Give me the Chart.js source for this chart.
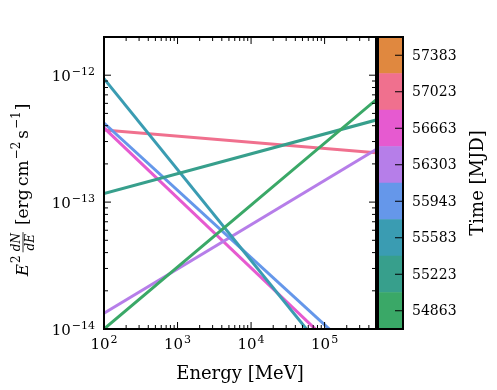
<!DOCTYPE html>
<html>
<head>
<meta charset="utf-8">
<script src="https://cdn.jsdelivr.net/npm/chart.js@4.4.1/dist/chart.umd.min.js"></script>
<style>
  body { margin: 0; background: #fff; }
  #wrap { position: relative; width: 497px; height: 390px; }
  #wrap canvas { position: absolute; left: 0; top: 0; }
</style>
</head>
<body>
<div id="wrap">
  <canvas id="spec" width="497" height="390"></canvas>
  <canvas id="cbar" width="497" height="390"></canvas>
</div>
<script>
// energy end points of every power law [MeV]
const energy = [100, 5e5];

// E^2 dN/dE at the two ends [erg cm^-2 s^-1], one array per epoch
const flux54863 = [1.0e-14, 6.4e-13];
const flux55223 = [1.17e-13, 4.43e-13];
const flux55583 = [9.4e-13, 2.1e-15];
const flux55943 = [4.2e-13, 4.6e-15];
const flux56303 = [1.33e-14, 2.6e-13];
const flux56663 = [3.85e-13, 3.5e-15];
const flux57023 = [3.7e-13, 2.45e-13];

// colour bar
const mjdLabels = ['54863', '55223', '55583', '55943', '56303', '56663', '57023', '57383'];
const mjdColors = ['#3aa867', '#379f8c', '#3a9cb2', '#6597ea', '#b67ee9', '#e65ad0', '#f0708e', '#e0883f'];

// tick labels (powers of ten)
const xTickExp = [2, 3, 4, 5];
const yTickExp = [-14, -13, -12];

const series = [
  { mjd: '54863', flux: flux54863 },
  { mjd: '55223', flux: flux55223 },
  { mjd: '55583', flux: flux55583 },
  { mjd: '55943', flux: flux55943 },
  { mjd: '56303', flux: flux56303 },
  { mjd: '56663', flux: flux56663 },
  { mjd: '57023', flux: flux57023 }
];

const serif = '"DejaVu Serif", "Liberation Serif", serif';

function seg(ctx, x1, y1, x2, y2) {
  ctx.beginPath(); ctx.moveTo(x1, y1); ctx.lineTo(x2, y2); ctx.stroke();
}

// "10" with a superscript exponent
function drawPow(ctx, exp, x, y, align) {
  const base = '15px ' + serif, sup = '11px ' + serif;
  const e = String(exp).replace('-', '\u2212');
  ctx.font = base; const wb = ctx.measureText('10').width;
  ctx.font = sup; const we = ctx.measureText(e).width;
  const x0 = align === 'right' ? x - wb - we - 1 : x - (wb + we + 1) / 2;
  ctx.textAlign = 'left'; ctx.textBaseline = 'alphabetic';
  ctx.font = base; ctx.fillText('10', x0, y);
  ctx.font = sup; ctx.fillText(e, x0 + wb + 1, y - 6.5);
}

function drawYTitle(ctx, cx, cy) {
  const big = '17px ' + serif, bigI = 'italic 17px ' + serif;
  const small = '12px ' + serif, smallI = 'italic 12px ' + serif;
  const parts = [
    { t: 'E', f: bigI, dy: 0, gap: 1 },
    { t: '2', f: small, dy: -8, gap: 3 },
    { frac: ['dN', 'dE'], f: smallI, gap: 7 },
    { t: '[erg\u2009cm', f: big, dy: 0, gap: 1 },
    { t: '\u22122', f: small, dy: -8, gap: 3 },
    { t: 's', f: big, dy: 0, gap: 1 },
    { t: '\u22121', f: small, dy: -8, gap: 1 },
    { t: ']', f: big, dy: 0 }
  ];
  let total = 0;
  parts.forEach(p => {
    ctx.font = p.f;
    p.w = p.frac ? Math.max(ctx.measureText(p.frac[0]).width, ctx.measureText(p.frac[1]).width) + 2
                 : ctx.measureText(p.t).width;
    total += p.w + (p.gap || 0);
  });
  ctx.save();
  ctx.translate(cx, cy);
  ctx.rotate(-Math.PI / 2);
  ctx.fillStyle = '#000'; ctx.strokeStyle = '#000';
  ctx.textBaseline = 'alphabetic';
  let u = -total / 2;
  parts.forEach(p => {
    ctx.font = p.f;
    if (p.frac) {
      ctx.textAlign = 'center';
      ctx.fillText(p.frac[0], u + p.w / 2, -8);
      ctx.fillText(p.frac[1], u + p.w / 2, 6);
      ctx.lineWidth = 0.8;
      seg(ctx, u, -5, u + p.w, -5);
    } else {
      ctx.textAlign = 'left';
      ctx.fillText(p.t, u, p.dy);
    }
    u += p.w + (p.gap || 0);
  });
  ctx.restore();
}

const specFrame = {
  id: 'specFrame',
  afterDraw(chart) {
    const { ctx, chartArea: a, scales: { x, y } } = chart;
    ctx.save();
    ctx.strokeStyle = '#000'; ctx.fillStyle = '#000';
    ctx.lineWidth = 1;
    // x ticks, bottom and top
    for (let d = 2; d <= 5; d++) {
      for (let m = 1; m <= 9; m++) {
        const v = m * Math.pow(10, d);
        if (v > x.max) break;
        const px = x.getPixelForValue(v), len = m === 1 ? 7 : 4;
        seg(ctx, px, a.bottom, px, a.bottom - len);
        seg(ctx, px, a.top, px, a.top + len);
      }
    }
    // y ticks, left and right
    for (let d = -14; d <= -12; d++) {
      for (let m = 1; m <= 9; m++) {
        const v = m * Math.pow(10, d);
        if (v > y.max * 1.0001) break;
        const py = y.getPixelForValue(v), len = m === 1 ? 7 : 4;
        seg(ctx, a.left, py, a.left + len, py);
        seg(ctx, a.right, py, a.right - len, py);
      }
    }
    ctx.lineWidth = 2;
    ctx.strokeRect(a.left, a.top, a.right - a.left, a.bottom - a.top);

    xTickExp.forEach(e => drawPow(ctx, e, x.getPixelForValue(Math.pow(10, e)), a.bottom + 20, 'center'));
    yTickExp.forEach(e => drawPow(ctx, e, a.left - 9, y.getPixelForValue(Math.pow(10, e)) + 6, 'right'));

    ctx.font = '18px ' + serif;
    ctx.textAlign = 'center'; ctx.textBaseline = 'alphabetic';
    ctx.fillText('Energy [MeV]', (a.left + a.right) / 2, 379);
    drawYTitle(ctx, 28, 190);
    ctx.restore();
  }
};

new Chart(document.getElementById('spec'), {
  type: 'scatter',
  data: {
    datasets: series.map(s => ({
      label: s.mjd,
      data: energy.map((e, i) => ({ x: e, y: s.flux[i] })),
      showLine: true,
      borderColor: mjdColors[mjdLabels.indexOf(s.mjd)],
      borderWidth: 3,
      pointRadius: 0,
      clip: 0
    }))
  },
  options: {
    responsive: false,
    animation: false,
    layout: { padding: { left: 0, right: 121, top: 37, bottom: 0 } },
    plugins: { legend: { display: false }, tooltip: { enabled: false } },
    scales: {
      x: {
        type: 'logarithmic', min: 100, max: 5e5,
        grid: { display: false }, border: { display: false }, ticks: { display: false },
        afterFit(s) { s.height = 61; }
      },
      y: {
        type: 'logarithmic', min: 1e-14, max: 2e-12,
        grid: { display: false }, border: { display: false }, ticks: { display: false },
        afterFit(s) { s.width = 104; }
      }
    }
  },
  plugins: [specFrame]
});

const cbarFrame = {
  id: 'cbarFrame',
  afterDraw(chart) {
    const { ctx, chartArea: a, scales: { y } } = chart;
    ctx.save();
    ctx.strokeStyle = '#000'; ctx.fillStyle = '#000';
    ctx.lineWidth = 1;
    ctx.font = '14px ' + serif;
    ctx.textAlign = 'left'; ctx.textBaseline = 'middle';
    mjdLabels.forEach((l, i) => {
      const py = y.getPixelForValue(i + 0.5);
      seg(ctx, a.right, py, a.right - 8, py);
      ctx.fillText(l, a.right + 9, py + 1);
    });
    ctx.lineWidth = 2;
    ctx.strokeRect(a.left, a.top, a.right - a.left, a.bottom - a.top);
    ctx.translate(478, 183);
    ctx.rotate(-Math.PI / 2);
    ctx.font = '18px ' + serif;
    ctx.textAlign = 'center'; ctx.textBaseline = 'middle';
    ctx.fillText('Time [MJD]', 0, 0);
    ctx.restore();
  }
};

new Chart(document.getElementById('cbar'), {
  type: 'bar',
  data: {
    labels: [''],
    datasets: mjdLabels.map((l, i) => ({
      label: l,
      data: [1],
      backgroundColor: mjdColors[i],
      borderWidth: 0,
      barPercentage: 1,
      categoryPercentage: 1
    }))
  },
  options: {
    responsive: false,
    animation: false,
    layout: { padding: { left: 378, right: 0, top: 37, bottom: 61 } },
    plugins: { legend: { display: false }, tooltip: { enabled: false } },
    scales: {
      x: { display: false, stacked: true },
      y: {
        stacked: true, position: 'right', min: 0, max: 8,
        grid: { display: false }, border: { display: false }, ticks: { display: false },
        afterFit(s) { s.width = 94; }
      }
    }
  },
  plugins: [cbarFrame]
});
</script>
</body>
</html>
